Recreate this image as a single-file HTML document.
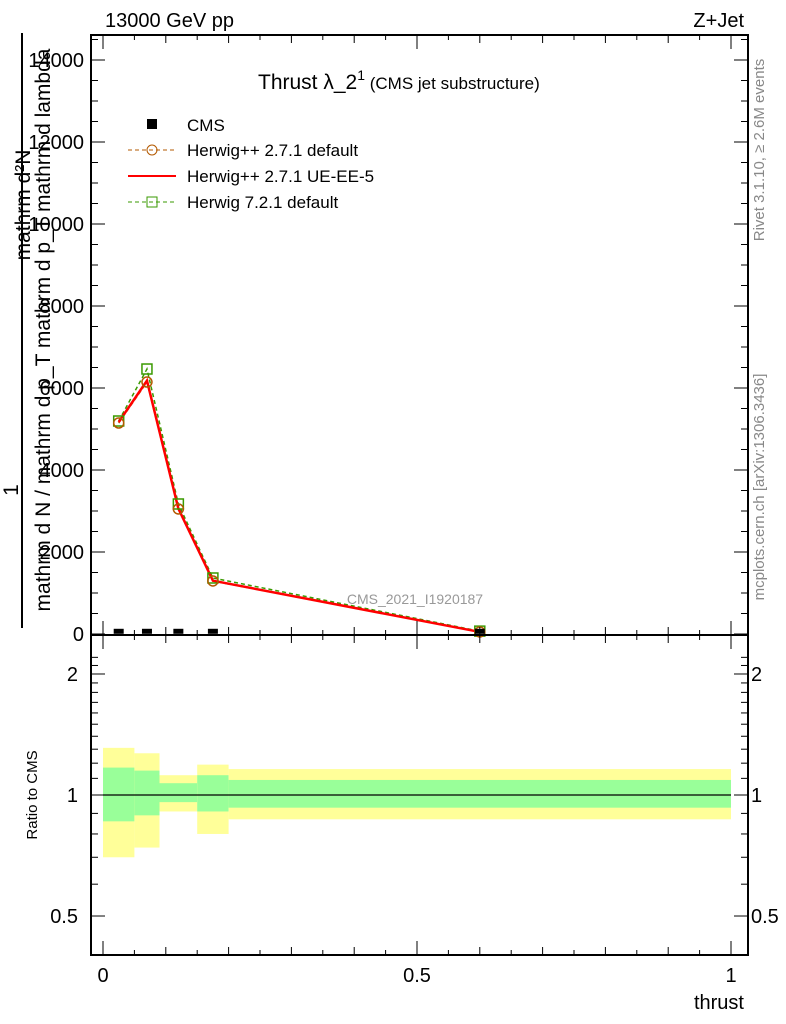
<!DOCTYPE html>
<html><head><meta charset="utf-8"><style>
body{margin:0;background:#fff;}
svg{display:block;font-family:"Liberation Sans",sans-serif;}
</style></head><body>
<svg id="c" width="786" height="1024" viewBox="0 0 786 1024">
<g id="bands"></g>
<g id="marks"></g>
<g id="axes"></g>
<text x="105" y="27" font-size="20">13000 GeV pp</text>
<text x="744" y="27" font-size="20" text-anchor="end">Z+Jet</text>
<text x="258" y="89" font-size="21">Thrust λ_2<tspan font-size="14" dy="-9">1</tspan><tspan font-size="17" dy="9"> (CMS jet substructure)</tspan></text>
<text x="415" y="604" font-size="14" fill="#999" text-anchor="middle">CMS_2021_I1920187</text>
<text transform="translate(764,150) rotate(-90)" font-size="15" fill="#888" text-anchor="middle">Rivet 3.1.10, ≥ 2.6M events</text>
<text transform="translate(764,487) rotate(-90)" font-size="15" fill="#888" text-anchor="middle">mcplots.cern.ch [arXiv:1306.3436]</text>
<text transform="translate(37,795) rotate(-90)" font-size="15" text-anchor="middle">Ratio to CMS</text>
<text x="744" y="1009" font-size="20" text-anchor="end">thrust</text>
<g font-size="21">
<text transform="translate(30,205) rotate(-90)" text-anchor="middle">mathrm d²N</text>
<line x1="22" y1="33" x2="22" y2="628" stroke="#000" stroke-width="2"/>
<text transform="translate(50,330) rotate(-90)" text-anchor="middle">mathrm d N / mathrm d p_T mathrm d p_T mathrm d lambda</text>
<text transform="translate(18,490) rotate(-90)" text-anchor="middle">1</text>
</g>
<g font-size="17">
<g><rect x="147" y="119" width="10" height="10" fill="#000"/><text x="187" y="131">CMS</text></g>
<g><line x1="128" y1="150" x2="176" y2="150" stroke="#b35900" stroke-dasharray="4,3"/><circle cx="152" cy="150" r="5" fill="none" stroke="#b35900"/><text x="187" y="156">Herwig++ 2.7.1 default</text></g>
<g><line x1="128" y1="176" x2="176" y2="176" stroke="#f00" stroke-width="2"/><text x="187" y="182">Herwig++ 2.7.1 UE-EE-5</text></g>
<g><line x1="128" y1="202" x2="176" y2="202" stroke="#3a9a00" stroke-dasharray="4,3"/><rect x="147" y="197" width="10" height="10" fill="none" stroke="#3a9a00"/><text x="187" y="208">Herwig 7.2.1 default</text></g>
</g>
</svg>
<script>
const xCenters=[0.025,0.07,0.12,0.175,0.6];
const binEdges=[0,0.05,0.09,0.15,0.2,1];
const cmsVals=[5,5,5,5,5];
const herwigppDefault=[5146,6146,3049,1293,50];
const herwigppUE=[5170,6180,3060,1300,50];
const herwig7=[5195,6463,3171,1366,70];
const yellowLo=[0.70,0.74,0.91,0.80,0.87];
const yellowHi=[1.31,1.27,1.12,1.19,1.16];
const greenLo=[0.86,0.89,0.96,0.91,0.93];
const greenHi=[1.17,1.15,1.07,1.12,1.09];
const mainYTicks=[0,2000,4000,6000,8000,10000,12000,14000];
const mainYLabels=["0","2000","4000","6000","8000","10000","12000","14000"];
const ratioTicks=[0.5,1,2];
const ratioLabels=["0.5","1","2"];
const xTicks=[0,0.5,1];
const xLabels=["0","0.5","1"];

const NS="http://www.w3.org/2000/svg";
const L=91,R=748,T=35,M=635,B=955;
const X=v=>103+v*628;
const Y=v=>634-v*(574/14000);
const RY=r=>795-Math.log10(r)*402;
function mk(tag,attrs,parent){const e=document.createElementNS(NS,tag);for(const k in attrs)e.setAttribute(k,attrs[k]);parent.appendChild(e);return e;}
const bands=document.getElementById('bands'),marks=document.getElementById('marks'),axes=document.getElementById('axes');

for(let i=0;i<yellowLo.length;i++){
  const y=mk('rect',{x:X(binEdges[i]),y:RY(yellowHi[i]),width:X(binEdges[i+1])-X(binEdges[i]),height:RY(yellowLo[i])-RY(yellowHi[i]),fill:'#ffff99'},bands);
  
  
  const g=mk('rect',{x:X(binEdges[i]),y:RY(greenHi[i]),width:X(binEdges[i+1])-X(binEdges[i]),height:RY(greenLo[i])-RY(greenHi[i]),fill:'#99ff99'},bands);
  
  
}
const ref=mk('line',{x1:X(0),x2:X(1),y1:RY(1),y2:RY(1),stroke:'#000','stroke-width':1.2},bands);



function series(vals,color,dash,width,name){
  const pts=vals.map((v,i)=>X(xCenters[i])+','+Y(v)).join(' ');
  const p=mk('polyline',{points:pts,fill:'none',stroke:color,'stroke-width':width},marks);
  if(dash)p.setAttribute('stroke-dasharray',dash);
  
  
}
series(herwig7,'#3a9a00','4,3',1.5,'herwig7');
series(herwigppDefault,'#b35900','4,3',1.5,'herwigpp-default');
series(herwigppUE,'#f00',null,2.5,'herwigpp-ue');
herwig7.forEach((v,i)=>{const r=mk('rect',{x:X(xCenters[i])-5,y:Y(v)-5,width:10,height:10,fill:'none',stroke:'#3a9a00','stroke-width':1.5},marks);
  
  });
herwigppDefault.forEach((v,i)=>{const c=mk('circle',{cx:X(xCenters[i]),cy:Y(v),r:5,fill:'none',stroke:'#b35900','stroke-width':1.5},marks);
  
  });
cmsVals.forEach((v,i)=>{const r=mk('rect',{x:X(xCenters[i])-5,y:Y(v)-5,width:10,height:5,fill:'#000'},marks);
  
  });

mk('rect',{x:L,y:T,width:R-L,height:M-T,fill:'none',stroke:'#000','stroke-width':2},axes);
mk('rect',{x:L,y:M,width:R-L,height:B-M,fill:'none',stroke:'#000','stroke-width':2},axes);
for(let k=0;k<=20;k++){const v=k*0.05,x=X(v);const len=(k%10==0)?14:(k%2==0?8:5);
  [[M,-1],[M,1],[B,-1],[T,1]].forEach(([y0,d])=>mk('line',{x1:x,x2:x,y1:y0,y2:y0+d*len,stroke:'#000'},axes));}
xTicks.forEach((v,i)=>{const t=mk('text',{x:X(v),y:982,'font-size':20,'text-anchor':'middle'},axes);t.textContent=xLabels[i];
  
  });
for(let v=0;v<=14500;v+=500){const y=Y(v);if(y<T)break;const len=(v%2000==0)?14:7;
  mk('line',{x1:L,x2:L+len,y1:y,y2:y,stroke:'#000'},axes);mk('line',{x1:R,x2:R-len,y1:y,y2:y,stroke:'#000'},axes);}
mainYTicks.forEach((v,i)=>{const t=mk('text',{x:84,y:Y(v)+7,'font-size':20,'text-anchor':'end'},axes);t.textContent=mainYLabels[i];
  
  });
[0.4,0.5,0.6,0.7,0.8,0.9,1,1.1,1.2,1.3,1.4,1.5,1.6,1.7,1.8,1.9,2,2.1,2.2].forEach(r=>{const y=RY(r);if(y<M||y>B)return;
  const len=(r==0.5||r==1||r==2)?14:7;
  mk('line',{x1:L,x2:L+len,y1:y,y2:y,stroke:'#000'},axes);mk('line',{x1:R,x2:R-len,y1:y,y2:y,stroke:'#000'},axes);});
ratioTicks.forEach((r,i)=>{const t=mk('text',{x:78,y:RY(r)+7,'font-size':20,'text-anchor':'end'},axes);t.textContent=ratioLabels[i];
  
  
  const t2=mk('text',{x:751,y:RY(r)+7,'font-size':20},axes);t2.textContent=ratioLabels[i];
  
  });
</script>
</body></html>
